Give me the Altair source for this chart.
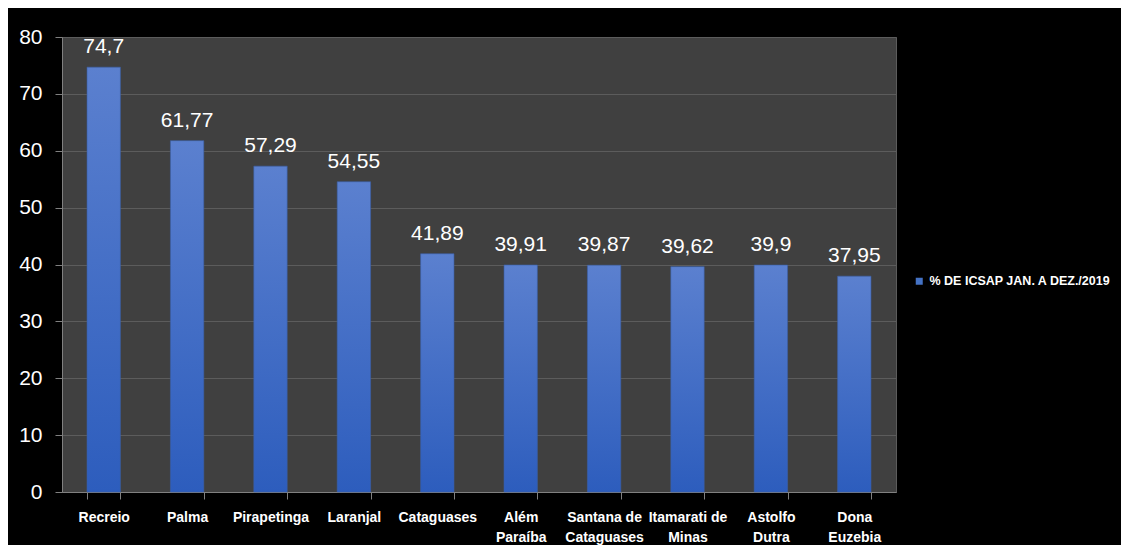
import altair as alt
import pandas as pd

categories = ["Recreio", "Palma", "Pirapetinga", "Laranjal", "Cataguases",
              "Além Paraíba", "Santana de Cataguases", "Itamarati de Minas",
              "Astolfo Dutra", "Dona Euzebia"]
values = [74.7, 61.77, 57.29, 54.55, 41.89, 39.91, 39.87, 39.62, 39.9, 37.95]
value_labels = ["74,7", "61,77", "57,29", "54,55", "41,89", "39,91", "39,87",
                "39,62", "39,9", "37,95"]
series_name = "% DE ICSAP JAN. A DEZ./2019"
y_ticks = [0, 10, 20, 30, 40, 50, 60, 70, 80]

df = pd.DataFrame({"cat": categories, "val": values, "lab": value_labels,
                   "series": [series_name] * len(categories)})

FONT = "Liberation Sans, Arial, sans-serif"

x_enc = alt.X("cat:N", sort=categories, title=None,
              scale=alt.Scale(paddingInner=0.6, paddingOuter=0.3),
              axis=alt.Axis(labelAngle=0, labelFont=FONT, labelFontSize=14,
                            labelFontWeight="bold", labelColor="white",
                            labelLineHeight=20, labelPadding=11,
                            labelExpr="lastindexof(datum.label,' ') > 0 ? [substring(datum.label,0,lastindexof(datum.label,' ')), substring(datum.label,lastindexof(datum.label,' ')+1)] : datum.label",
                            tickColor="#808080", tickSize=7, tickBand="extent",
                            domainColor="#808080", grid=False))
y_enc = alt.Y("val:Q", title=None,
              scale=alt.Scale(domain=[0, 80], nice=False),
              axis=alt.Axis(values=y_ticks, labelFont=FONT, labelFontSize=21,
                            labelColor="white", labelPadding=13,
                            tickColor="#808080", tickSize=7,
                            domainColor="#808080", gridColor="#5c5c5c"))

bars = alt.Chart(df).mark_bar(
    color=alt.Gradient(gradient="linear",
                       stops=[alt.GradientStop(color="#5b80cf", offset=0),
                              alt.GradientStop(color="#2d5dbd", offset=1)],
                       x1=0, x2=0, y1=0, y2=1),
    stroke="#3a5fa8", strokeWidth=0.6
).encode(x=x_enc, y=y_enc)

texts = alt.Chart(df).mark_text(baseline="bottom", dy=-10, font=FONT,
                                fontSize=21, color="white").encode(
    x=alt.X("cat:N", sort=categories), y="val:Q", text="lab:N")

legend_layer = alt.Chart(df).mark_square(size=0).encode(
    x=alt.X("cat:N", sort=categories), y="val:Q",
    color=alt.Color("series:N", scale=alt.Scale(domain=[series_name], range=["#4472c4"]),
                    legend=alt.Legend(title=None, orient="none", legendX=851, legendY=238,
                                      symbolType="square", symbolSize=49,
                                      symbolStrokeWidth=0, symbolOpacity=1,
                                      labelFont=FONT, labelFontSize=12.5,
                                      labelFontWeight="bold", labelColor="white",
                                      labelLimit=400, labelOffset=4)))

chart = alt.layer(bars, texts, legend_layer).properties(
    width=834, height=455,
    autosize=alt.AutoSizeParams(type="none"),
    padding={"left": 54, "top": 29, "right": 225, "bottom": 53},
    background="black"
).configure_view(fill="#404040", stroke="#5c5c5c")

chart.save("out.html", embed_options={"renderer": "svg", "actions": False})
